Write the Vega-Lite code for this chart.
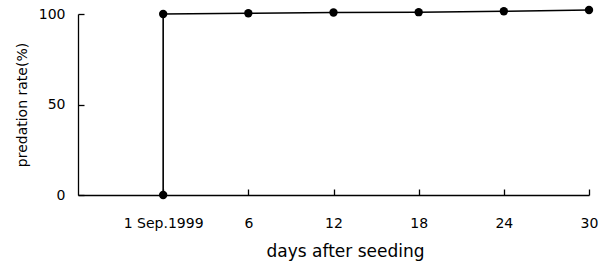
{
  "$schema": "https://vega.github.io/schema/vega-lite/v6.json",
  "width": 511,
  "height": 181,
  "autosize": {"type": "none"},
  "padding": {"left": 78, "top": 14, "right": 19, "bottom": 69},
  "background": "white",
  "config": {
    "view": {"stroke": null},
    "font": "DejaVu Sans",
    "axis": {
      "domainColor": "black",
      "domainWidth": 1.3,
      "tickColor": "black",
      "tickWidth": 1.3,
      "tickSize": -6,
      "grid": false,
      "labelColor": "black",
      "labelFont": "DejaVu Sans",
      "labelFontSize": 14,
      "titleColor": "black",
      "titleFont": "DejaVu Sans",
      "titleFontWeight": "normal",
      "titleFontSize": 14
    }
  },
  "data": {
    "values": [
      {"order": 1, "day": 0, "rate": 0},
      {"order": 2, "day": 0, "rate": 100},
      {"order": 3, "day": 6, "rate": 100.4},
      {"order": 4, "day": 12, "rate": 100.8},
      {"order": 5, "day": 18, "rate": 101},
      {"order": 6, "day": 24, "rate": 101.5},
      {"order": 7, "day": 30, "rate": 102.2}
    ]
  },
  "encoding": {
    "x": {
      "field": "day",
      "type": "quantitative",
      "scale": {"domain": [-6, 30], "nice": false, "zero": false},
      "axis": {
        "values": [0, 6, 12, 18, 24, 30],
        "labelExpr": "datum.value == 0 ? '1 Sep.1999' : datum.label",
        "labelPadding": 27,
        "labelFlush": false,
        "title": "days after seeding",
        "titleFontSize": 17,
        "titlePadding": 13,
        "titleX": 267
      }
    },
    "y": {
      "field": "rate",
      "type": "quantitative",
      "scale": {"domain": [0, 100], "nice": false},
      "axis": {
        "values": [0, 50, 100],
        "labelPadding": 19,
        "title": "predation rate(%)",
        "titlePadding": 9
      }
    },
    "order": {"field": "order"}
  },
  "layer": [
    {"mark": {"type": "line", "color": "black", "strokeWidth": 1.6}},
    {"mark": {"type": "point", "filled": true, "color": "black", "opacity": 1, "size": 70}}
  ]
}
